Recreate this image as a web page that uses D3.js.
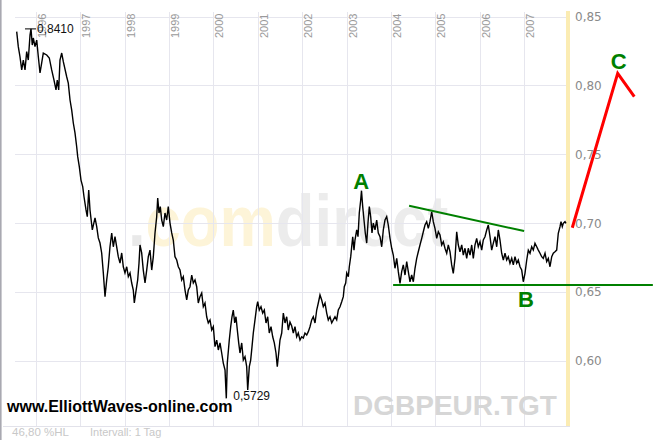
<!DOCTYPE html>
<html><head><meta charset="utf-8">
<script src="https://cdn.jsdelivr.net/npm/d3@7"></script>
<style>html,body{margin:0;padding:0;background:#fff;}svg{display:block;}</style>
</head><body>
<svg id="chart" width="653" height="440"></svg>
<script>
const years = [
1995.572,1995.608,1995.646,1995.685,1995.721,1995.759,1995.797,1995.833,1995.872,1995.894,
1995.923,1995.946,1995.984,1996.023,1996.059,1996.097,1996.135,1996.171,1996.248,1996.306,
1996.360,1996.412,1996.457,1996.486,1996.518,1996.547,1996.586,1996.622,1996.698,1996.734,
1996.773,1996.811,1996.847,1996.885,1996.923,1996.946,1996.982,1997.020,1997.059,1997.088,
1997.133,1997.162,1997.194,1997.223,1997.275,1997.336,1997.374,1997.410,1997.448,1997.486,
1997.523,1997.561,1997.599,1997.635,1997.673,1997.712,1997.748,1997.786,1997.824,1997.860,
1997.899,1997.937,1997.973,1998.011,1998.050,1998.086,1998.124,1998.162,1998.198,1998.221,
1998.252,1998.297,1998.327,1998.349,1998.387,1998.423,1998.462,1998.500,1998.536,1998.574,
1998.613,1998.649,1998.687,1998.725,1998.748,1998.777,1998.806,1998.838,1998.874,1998.912,
1998.950,1998.986,1999.025,1999.063,1999.099,1999.137,1999.176,1999.212,1999.250,1999.288,
1999.324,1999.363,1999.401,1999.437,1999.475,1999.514,1999.550,1999.588,1999.626,1999.662,
1999.700,1999.739,1999.775,1999.813,1999.851,1999.887,1999.926,1999.964,2000.000,2000.038,
2000.077,2000.113,2000.151,2000.189,2000.225,2000.264,2000.293,2000.315,2000.360,2000.392,
2000.421,2000.450,2000.482,2000.511,2000.541,2000.572,2000.601,2000.640,2000.676,2000.714,
2000.752,2000.775,2000.811,2000.842,2000.872,2000.901,2000.939,2000.977,2001.000,2001.036,
2001.074,2001.113,2001.149,2001.187,2001.225,2001.261,2001.300,2001.338,2001.374,2001.412,
2001.441,2001.473,2001.502,2001.541,2001.577,2001.615,2001.653,2001.689,2001.727,2001.766,
2001.802,2001.840,2001.878,2001.914,2001.953,2001.991,2002.027,2002.065,2002.104,2002.140,
2002.178,2002.216,2002.252,2002.291,2002.329,2002.365,2002.403,2002.441,2002.477,2002.516,
2002.554,2002.590,2002.628,2002.667,2002.703,2002.741,2002.779,2002.815,2002.854,2002.892,
2002.928,2002.950,2002.982,2003.005,2003.041,2003.063,2003.095,2003.117,2003.140,2003.169,
2003.191,2003.230,2003.259,2003.288,2003.320,2003.338,2003.365,2003.394,2003.423,2003.455,
2003.484,2003.514,2003.545,2003.574,2003.604,2003.642,2003.680,2003.716,2003.755,2003.793,
2003.829,2003.867,2003.905,2003.941,2003.980,2004.018,2004.054,2004.092,2004.131,2004.167,
2004.205,2004.243,2004.279,2004.318,2004.356,2004.392,2004.430,2004.468,2004.505,2004.543,
2004.581,2004.617,2004.655,2004.694,2004.730,2004.768,2004.806,2004.842,2004.880,2004.919,
2004.955,2004.993,2005.032,2005.068,2005.106,2005.144,2005.180,2005.218,2005.257,2005.293,
2005.331,2005.369,2005.405,2005.444,2005.482,2005.518,2005.556,2005.595,2005.631,2005.669,
2005.707,2005.743,2005.782,2005.820,2005.856,2005.894,2005.932,2005.968,2006.007,2006.045,
2006.081,2006.119,2006.158,2006.194,2006.232,2006.270,2006.306,2006.345,2006.383,2006.419,
2006.457,2006.495,2006.532,2006.570,2006.608,2006.644,2006.682,2006.721,2006.757,2006.795,
2006.833,2006.869,2006.908,2006.946,2006.982,2007.020,2007.059,2007.095,2007.133,2007.171,
2007.207,2007.245,2007.284,2007.320,2007.358,2007.396,2007.432,2007.471,2007.509,2007.545,
2007.583,2007.622,2007.658,2007.696,2007.734,2007.770,2007.809,2007.831,2007.860,2007.883,
2007.921,2007.944];
const values = [
0.8390,0.8281,0.8208,0.8112,0.8184,0.8112,0.8245,0.8184,0.8366,0.8410,
0.8293,0.8344,0.8281,0.8329,0.8208,0.8090,0.8163,0.8235,0.8221,0.8199,
0.8112,0.8039,0.7967,0.8039,0.7967,0.8184,0.8235,0.8172,0.8063,0.8017,
0.7894,0.7821,0.7727,0.7655,0.7555,0.7483,0.7410,0.7313,0.7265,0.7192,
0.7096,0.7047,0.7241,0.7096,0.6951,0.7038,0.6975,0.6893,0.6856,0.6784,
0.6639,0.6467,0.6588,0.6684,0.6829,0.6929,0.6829,0.6902,0.6829,0.6757,
0.6711,0.6784,0.6684,0.6639,0.6684,0.6612,0.6639,0.6566,0.6515,0.6421,
0.6493,0.6588,0.6711,0.6842,0.6784,0.6660,0.6566,0.6660,0.6757,0.6805,
0.6660,0.6757,0.6929,0.7047,0.7183,0.7074,0.7120,0.7023,0.6975,0.7074,
0.7023,0.7120,0.7001,0.6929,0.6878,0.6757,0.6733,0.6684,0.6660,0.6588,
0.6612,0.6515,0.6443,0.6515,0.6539,0.6624,0.6566,0.6588,0.6539,0.6421,
0.6467,0.6493,0.6394,0.6421,0.6321,0.6276,0.6298,0.6225,0.6249,0.6104,
0.6152,0.6080,0.6131,0.6058,0.5985,0.5935,0.5729,0.5985,0.6152,0.6249,
0.6321,0.6370,0.6276,0.6321,0.6225,0.6131,0.6058,0.6131,0.6007,0.6031,
0.5959,0.5790,0.5959,0.6007,0.6104,0.6203,0.6298,0.6394,0.6430,0.6370,
0.6394,0.6348,0.6370,0.6276,0.6321,0.6203,0.6249,0.6176,0.6131,0.6058,
0.5959,0.6058,0.6152,0.6203,0.6348,0.6276,0.6321,0.6225,0.6283,0.6254,
0.6203,0.6249,0.6176,0.6203,0.6152,0.6176,0.6167,0.6203,0.6189,0.6213,
0.6249,0.6298,0.6321,0.6276,0.6370,0.6421,0.6479,0.6443,0.6394,0.6421,
0.6348,0.6298,0.6321,0.6276,0.6298,0.6321,0.6298,0.6370,0.6394,0.6430,
0.6467,0.6539,0.6566,0.6639,0.6612,0.6684,0.6757,0.6829,0.6902,0.6805,
0.6878,0.6951,0.6902,0.7074,0.7168,0.7236,0.7120,0.7023,0.6929,0.6856,
0.7001,0.7120,0.7047,0.6929,0.7001,0.6951,0.7023,0.6929,0.6902,0.6829,
0.6951,0.7023,0.7047,0.6987,0.6890,0.6818,0.6769,0.6673,0.6745,0.6648,
0.6564,0.6648,0.6697,0.6624,0.6721,0.6648,0.6575,0.6624,0.6575,0.6673,
0.6745,0.6793,0.6842,0.6890,0.6938,0.6987,0.7011,0.6963,0.7011,0.7083,
0.7011,0.6963,0.6890,0.6938,0.6914,0.6842,0.6866,0.6818,0.6782,0.6842,
0.6793,0.6697,0.6636,0.6745,0.6938,0.6842,0.6793,0.6842,0.6769,0.6818,
0.6745,0.6818,0.6769,0.6842,0.6745,0.6842,0.6890,0.6829,0.6866,0.6805,
0.6878,0.6902,0.6951,0.6987,0.6902,0.6805,0.6854,0.6902,0.6829,0.6951,
0.6878,0.6782,0.6733,0.6782,0.6733,0.6757,0.6709,0.6745,0.6697,0.6757,
0.6709,0.6733,0.6684,0.6660,0.6575,0.6636,0.6733,0.6805,0.6782,0.6829,
0.6805,0.6854,0.6829,0.6805,0.6782,0.6757,0.6745,0.6782,0.6721,0.6745,
0.6684,0.6757,0.6782,0.6793,0.6805,0.6927,0.6975,0.7011,0.6975,0.6999,
0.7011,0.6999];

const yearTicks = [1996,1997,1998,1999,2000,2001,2002,2003,2004,2005,2006,2007];
const valueTicks = [0.60,0.65,0.70,0.75,0.80,0.85];

// Elliott wave annotations (data coordinates)
const supportLine = [[2004.05,0.6552],[2009.90,0.6552]];
const trendLine = [[2004.41,0.7127],[2007.00,0.6943]];
const forecastPath = [[2008.085,0.6967],[2009.108,0.8088],[2009.482,0.7918]];
const waveLabels = [
  {t:"A", year:2003.33, value:0.7245},
  {t:"B", year:2007.04, value:0.6392},
  {t:"C", year:2009.13, value:0.8118}
];

const svg = d3.select("#chart");
const x = d3.scaleLinear().domain([1996,2007]).range([35.7,524.1]);
const y = d3.scaleLinear().domain([0.60,0.85]).range([361,16.5]);
const plotLeft = 15, plotRight = 566, plotTop = 12, plotBottom = 426;
const fmt2 = v => d3.format(".2f")(v).replace(".", ",");
const fmt4 = v => d3.format(".4f")(v).replace(".", ",");

svg.append("rect").attr("width",653).attr("height",440).attr("fill","#ffffff");

// watermark
const wm = svg.append("text").attr("transform","translate(128,246) scale(0.88,1)")
  .attr("font-family","Liberation Sans, Arial, sans-serif").attr("font-weight","bold")
  .attr("font-size",72);
wm.append("tspan").attr("fill","#e9e9e9").text(".");
wm.append("tspan").attr("fill","#fdf4d8").text("com");
wm.append("tspan").attr("fill","#ececec").text("direct");

// grid via axes
const gx = svg.append("g").attr("transform",`translate(0,${plotBottom})`)
  .call(d3.axisTop(x).tickValues(yearTicks).tickSize(plotBottom-plotTop).tickFormat(""));
gx.select(".domain").remove();
gx.selectAll("line").attr("stroke","#e6e6ee").attr("stroke-width",1).attr("shape-rendering","crispEdges");

const gy = svg.append("g").attr("transform",`translate(${plotRight},0)`)
  .call(d3.axisLeft(y).tickValues(valueTicks).tickSize(plotRight-plotLeft).tickFormat(""));
gy.select(".domain").remove();
gy.selectAll("line").attr("stroke","#e6e6ee").attr("stroke-width",1).attr("shape-rendering","crispEdges");

// bottom border and left border
svg.append("line").attr("x1",3).attr("x2",570).attr("y1",plotBottom+0.5).attr("y2",plotBottom+0.5)
  .attr("stroke","#e2e2ea");
svg.append("rect").attr("x",0).attr("y",0).attr("width",1.6).attr("height",440).attr("fill","#a9a9b1");

// yellow band
svg.append("rect").attr("x",566).attr("y",11).attr("width",4).attr("height",plotBottom-11)
  .attr("fill","#fbecb3");

// year labels
svg.append("g").selectAll("text").data(yearTicks).join("text")
  .attr("transform",d=>`translate(${x(d)+10},38) rotate(-90)`)
  .attr("font-family","Liberation Sans, Arial, sans-serif").attr("font-size",11)
  .attr("fill","#9a9a9a").text(d=>d);

// value labels (right)
const ya = svg.append("g").attr("transform","translate(571,0)")
  .call(d3.axisRight(y).tickValues(valueTicks).tickSize(0).tickPadding(4).tickFormat(fmt2));
ya.select(".domain").remove();
ya.selectAll("text").attr("font-family","DejaVu Sans, Verdana, sans-serif").attr("font-size",12)
  .attr("fill","#8a8a8a");

// price line
const pts = years.map((yr,i)=>[yr,values[i]]);
const line = d3.line().x(d=>x(d[0])).y(d=>y(d[1]));
svg.append("path").datum(pts).attr("d",line).attr("fill","none")
  .attr("stroke","#000").attr("stroke-width",1.4).attr("stroke-linejoin","miter");

// max / min labels
const iMax = d3.maxIndex(values), iMin = d3.minIndex(values);
svg.append("line").attr("x1",x(years[iMax])-6).attr("x2",x(years[iMax])+5)
  .attr("y1",y(values[iMax])).attr("y2",y(values[iMax])).attr("stroke","#000").attr("stroke-width",1);
svg.append("text").attr("x",x(years[iMax])+6).attr("y",y(values[iMax])+4.5)
  .attr("font-family","Liberation Sans, Arial, sans-serif").attr("font-size",12).attr("fill","#111")
  .text(fmt4(values[iMax]));
svg.append("text").attr("x",x(years[iMin])+7).attr("y",y(values[iMin])+2)
  .attr("font-family","Liberation Sans, Arial, sans-serif").attr("font-size",12).attr("fill","#111")
  .text(fmt4(values[iMin]));

// annotations
const aline = d3.line().x(d=>x(d[0])).y(d=>y(d[1]));
svg.append("path").attr("d",aline(supportLine)).attr("stroke","#008000").attr("stroke-width",2).attr("fill","none");
svg.append("path").attr("d",aline(trendLine)).attr("stroke","#008000").attr("stroke-width",2).attr("fill","none");
svg.append("path").attr("d",aline(forecastPath)).attr("stroke","#ff0000").attr("stroke-width",3)
  .attr("fill","none").attr("stroke-linejoin","miter");
svg.append("g").selectAll("text").data(waveLabels).join("text")
  .attr("x",d=>x(d.year)).attr("y",d=>y(d.value)).attr("text-anchor","middle")
  .attr("font-family","Liberation Sans, Arial, sans-serif").attr("font-size",22).attr("font-weight","bold")
  .attr("fill","#008000").text(d=>d.t);

// footer texts
svg.append("text").attr("x",7).attr("y",412).attr("font-family","Liberation Sans, Arial, sans-serif")
  .attr("font-size",16).attr("font-weight","bold").attr("fill","#000").text("www.ElliottWaves-online.com");
svg.append("text").attr("x",353).attr("y",415).attr("font-family","Liberation Sans, Arial, sans-serif")
  .attr("font-size",28).attr("font-weight","bold").attr("fill","#d6d6d6").text("DGBPEUR.TGT");
svg.append("text").attr("x",12).attr("y",436).attr("font-family","Liberation Sans, Arial, sans-serif")
  .attr("font-size",11.5).attr("fill","#c8c8c8").text("46,80 %HL");
svg.append("text").attr("x",90).attr("y",436).attr("font-family","Liberation Sans, Arial, sans-serif")
  .attr("font-size",11).attr("fill","#c8c8c8").text("Intervall: 1 Tag");
</script>
</body></html>
